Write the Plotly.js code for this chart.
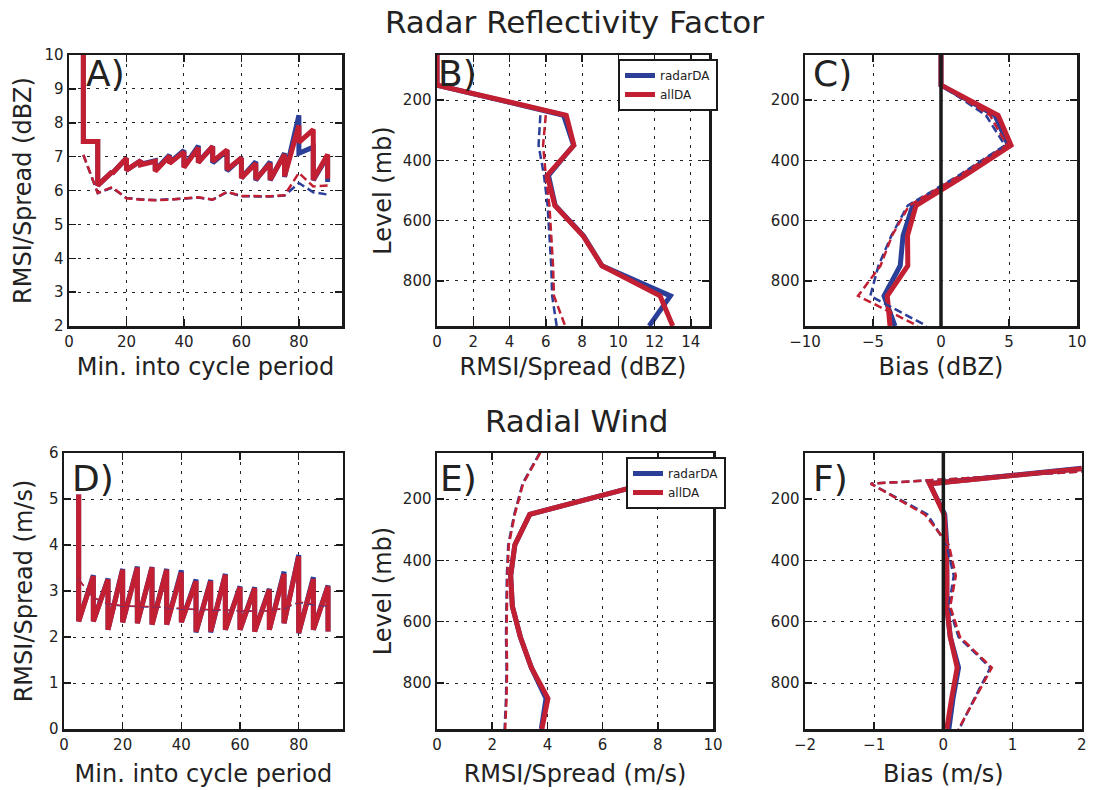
<!DOCTYPE html>
<html>
<head>
<meta charset="utf-8">
<script src="https://cdn.plot.ly/plotly-3.0.1.min.js"></script>
<style>html,body{margin:0;padding:0;background:#fff}#chart{width:1094px;height:790px}</style>
</head>
<body>
<div id="chart"></div>
<script>
// ---------------- data ----------------
const times = [5,10,15,20,25,30,35,40,45,50,55,60,65,70,75,80,85,90];

// A) reflectivity RMSI time series (forecast value before, analysis value after each cycle)
const dbzRadarFcst = [12,7.45,6.55,6.95,6.88,6.88,7.05,7.18,7.32,7.30,7.18,6.96,6.85,6.85,7.10,8.22,7.28,7.02];
const dbzRadarAnl  = [7.45,6.15,6.50,6.60,6.78,6.60,6.82,6.70,6.84,6.82,6.58,6.37,6.30,6.30,6.40,7.10,6.30,6.25];
const dbzAllFcst   = [12,7.45,6.55,6.95,6.88,6.86,7.02,7.14,7.26,7.30,7.20,6.96,6.80,6.80,7.06,7.92,7.80,7.06];
const dbzAllAnl    = [7.45,6.15,6.50,6.60,6.76,6.57,6.80,6.68,6.82,6.86,6.62,6.37,6.33,6.32,6.42,7.42,6.32,6.35];
const dbzRadarSpread = [7.05,5.92,6.08,5.78,5.74,5.72,5.74,5.76,5.79,5.73,5.95,5.83,5.82,5.82,5.85,6.22,5.95,5.88];
const dbzAllSpread   = [7.05,5.93,6.10,5.77,5.73,5.71,5.73,5.76,5.80,5.73,5.96,5.84,5.83,5.83,5.86,6.52,6.12,6.15];

// D) radial wind RMSI time series
const vrRadarFcst = [5.1,3.34,3.27,3.48,3.53,3.52,3.48,3.45,3.25,3.24,3.37,3.10,3.08,3.05,3.42,3.78,3.30,3.12];
const vrRadarAnl  = [2.34,2.34,2.16,2.32,2.30,2.27,2.27,2.32,2.10,2.10,2.16,2.16,2.12,2.16,2.30,2.08,2.16,2.12];
const vrAllFcst   = [5.1,3.32,3.25,3.46,3.51,3.51,3.46,3.40,3.21,3.21,3.35,3.08,3.06,3.03,3.37,3.75,3.26,3.10];
const vrAllAnl    = [2.34,2.34,2.16,2.32,2.30,2.27,2.27,2.32,2.12,2.12,2.16,2.16,2.12,2.16,2.30,2.09,2.16,2.12];
const vrRadarSpread = [3.25,2.85,2.72,2.67,2.66,2.65,2.64,2.61,2.60,2.59,2.58,2.57,2.56,2.57,2.62,2.75,2.70,2.67];
const vrAllSpread   = [3.25,2.86,2.73,2.68,2.67,2.66,2.65,2.62,2.60,2.60,2.59,2.57,2.56,2.57,2.63,2.76,2.72,2.68];

// vertical profiles
const levels = [50,100,150,250,350,450,550,650,750,850,950];

// B) reflectivity RMSI / spread
const dbzProfRadarRmsi   = [0,0,0,6.98,7.53,6.15,6.52,8.08,9.10,12.87,11.70];
const dbzProfAllRmsi     = [0,0,0,7.13,7.55,6.08,6.50,8.05,9.10,12.30,13.00];
const dbzProfRadarSpread = [null,null,null,5.70,5.60,5.90,6.10,6.20,6.30,6.35,6.60];
const dbzProfAllSpread   = [null,null,null,6.00,5.85,6.00,6.20,6.30,6.40,6.45,7.07];

// C) reflectivity bias
const dbzBiasRadar       = [0,0,0,3.97,4.95,1.60,-2.08,-2.79,-3.00,-4.19,-3.38];
const dbzBiasAll         = [0,0,0,4.20,5.15,1.76,-1.84,-2.46,-2.44,-3.95,-3.75];
const dbzBiasRadarSpread = [0,0,0,3.30,4.70,1.30,-2.45,-3.65,-4.60,-5.20,-1.05];
const dbzBiasAllSpread   = [0,0,0,3.60,4.85,1.40,-2.35,-3.60,-4.45,-6.10,-1.70];

// E) radial wind RMSI / spread
const vrProfRadarRmsi   = [null,11.40,7.60,3.36,2.82,2.67,2.73,3.02,3.42,3.95,3.78];
const vrProfAllRmsi     = [null,11.50,7.60,3.36,2.82,2.67,2.73,3.02,3.42,4.02,3.80];
const vrProfRadarSpread = [3.72,3.40,3.10,2.80,2.58,2.53,2.52,2.50,2.52,2.50,2.45];
const vrProfAllSpread   = [3.74,3.42,3.12,2.82,2.60,2.55,2.54,2.52,2.54,2.52,2.47];

// F) radial wind bias
const vrBiasRadar       = [null,2.00,-0.20,0.02,0.05,0.05,0.05,0.10,0.22,0.14,0.08];
const vrBiasAll         = [null,2.06,-0.20,0.01,0.04,0.05,0.05,0.10,0.20,0.12,0.05];
const vrBiasRadarSpread = [null,2.80,-1.05,-0.23,0.05,0.15,0.08,0.22,0.68,0.45,0.23];
const vrBiasAllSpread   = [null,2.80,-1.05,-0.27,0.08,0.18,0.10,0.24,0.70,0.46,0.22];

const zeroBias = [0,0];

// ---------------- style ----------------
const BLUE = '#2b3f98', RED = '#c21f32', INK = '#1a1a1a';
const FONT = 'DejaVu Sans, Liberation Sans, sans-serif';
const SOLID_W = 5, DASH_W = 2.5;
const DASH = '8px,4px';

function saw(t, f, a) {
  const xs = [], ys = [];
  for (let i = 0; i < t.length; i++) { xs.push(t[i], t[i]); ys.push(f[i], a[i]); }
  return {xs, ys};
}

const traces = [];
function tsPanel(xa, ya, rF, rA, aF, aA, rS, aS, dashW) {
  const r = saw(times, rF, rA), a = saw(times, aF, aA);
  traces.push({x: r.xs, y: r.ys, xaxis: xa, yaxis: ya, mode: 'lines', line: {color: BLUE, width: SOLID_W}, showlegend: false});
  traces.push({x: a.xs, y: a.ys, xaxis: xa, yaxis: ya, mode: 'lines', line: {color: RED, width: SOLID_W}, showlegend: false});
  traces.push({x: times, y: rS, xaxis: xa, yaxis: ya, mode: 'lines', line: {color: BLUE, width: dashW, dash: DASH}, showlegend: false});
  traces.push({x: times, y: aS, xaxis: xa, yaxis: ya, mode: 'lines', line: {color: RED, width: dashW, dash: DASH}, showlegend: false});
}
function profPanel(xa, ya, rV, aV, rS, aS, leg, zero) {
  traces.push({x: rV, y: levels, xaxis: xa, yaxis: ya, mode: 'lines', name: 'radarDA', line: {color: BLUE, width: SOLID_W}, showlegend: !!leg, legend: leg || 'legend'});
  traces.push({x: aV, y: levels, xaxis: xa, yaxis: ya, mode: 'lines', name: 'allDA', line: {color: RED, width: SOLID_W}, showlegend: !!leg, legend: leg || 'legend'});
  traces.push({x: rS, y: levels, xaxis: xa, yaxis: ya, mode: 'lines', line: {color: BLUE, width: DASH_W, dash: DASH}, showlegend: false});
  traces.push({x: aS, y: levels, xaxis: xa, yaxis: ya, mode: 'lines', line: {color: RED, width: DASH_W, dash: DASH}, showlegend: false});
  if (zero) traces.push({x: zeroBias, y: [levels[0], levels[levels.length-1]], xaxis: xa, yaxis: ya, mode: 'lines', line: {color: INK, width: 3.5}, showlegend: false});
}

tsPanel('x', 'y', dbzRadarFcst, dbzRadarAnl, dbzAllFcst, dbzAllAnl, dbzRadarSpread, dbzAllSpread, DASH_W);
profPanel('x2', 'y2', dbzProfRadarRmsi, dbzProfAllRmsi, dbzProfRadarSpread, dbzProfAllSpread, 'legend', false);
profPanel('x3', 'y3', dbzBiasRadar, dbzBiasAll, dbzBiasRadarSpread, dbzBiasAllSpread, null, true);
tsPanel('x4', 'y4', vrRadarFcst, vrRadarAnl, vrAllFcst, vrAllAnl, vrRadarSpread, vrAllSpread, 1.5);
profPanel('x5', 'y5', vrProfRadarRmsi, vrProfAllRmsi, vrProfRadarSpread, vrProfAllSpread, 'legend2', false);
profPanel('x6', 'y6', vrBiasRadar, vrBiasAll, vrBiasRadarSpread, vrBiasAllSpread, null, true);

function axis(domain, range, opts) {
  return Object.assign({
    domain: domain, range: range, autorange: false,
    showline: true, mirror: 'ticks', linecolor: INK, linewidth: 2.5,
    ticks: 'inside', ticklen: 7, tickwidth: 1.5, tickcolor: INK,
    showgrid: true, gridcolor: '#222', gridwidth: 1, griddash: '3px,6px',
    zeroline: false, tickfont: {family: FONT, size: 15, color: '#222'},
    fixedrange: true
  }, opts);
}
function ttl(text, standoff) { return {text: text, font: {family: FONT, size: 24, color: '#222'}, standoff: standoff}; }

const row1 = [1 - 326/790, 1 - 55/790];
const row2 = [1 - 729/790, 1 - 453/790];
const lvlTicks = {tickmode: 'array', tickvals: [200,400,600,800]};

const legendStyle = {xanchor: 'left', yanchor: 'top', bgcolor: '#fff', bordercolor: INK, borderwidth: 2,
                     font: {family: FONT, size: 12, color: '#222'}, tracegroupgap: 0, itemwidth: 30};

const layout = {
  width: 1094, height: 790,
  margin: {l: 0, r: 0, t: 0, b: 0},
  paper_bgcolor: '#fff', plot_bgcolor: '#fff',
  font: {family: FONT, color: '#222'},
  xaxis:  axis([69/1094, 342/1094], [0, 95], {anchor: 'y', dtick: 20, title: ttl('Min. into cycle period', 9)}),
  yaxis:  axis(row1, [2, 10], {anchor: 'x', dtick: 1, title: ttl('RMSI/Spread (dBZ)', 6)}),
  xaxis2: axis([437/1094, 709/1094], [0, 15], {anchor: 'y2', dtick: 2, title: ttl('RMSI/Spread (dBZ)', 9)}),
  yaxis2: axis(row1, [950, 50], Object.assign({anchor: 'x2', title: ttl('Level (mb)', 5)}, lvlTicks)),
  xaxis3: axis([805/1094, 1077/1094], [-10, 10], {anchor: 'y3', dtick: 5, title: ttl('Bias (dBZ)', 9)}),
  yaxis3: axis(row1, [950, 50], Object.assign({anchor: 'x3'}, lvlTicks)),
  xaxis4: axis([64/1094, 342.7/1094], [0, 95], {anchor: 'y4', dtick: 20, title: ttl('Min. into cycle period', 13)}),
  yaxis4: axis(row2, [0, 6], {anchor: 'x4', dtick: 1, title: ttl('RMSI/Spread (m/s)', 10)}),
  xaxis5: axis([437/1094, 713/1094], [0, 10], {anchor: 'y5', dtick: 2, title: ttl('RMSI/Spread (m/s)', 13)}),
  yaxis5: axis(row2, [950, 50], Object.assign({anchor: 'x5', title: ttl('Level (mb)', 5)}, lvlTicks)),
  xaxis6: axis([805/1094, 1081.7/1094], [-2, 2], {anchor: 'y6', dtick: 1, title: ttl('Bias (m/s)', 13)}),
  yaxis6: axis(row2, [950, 50], Object.assign({anchor: 'x6'}, lvlTicks)),
  legend:  Object.assign({x: 618/1094, y: 1 - 59/790}, legendStyle),
  legend2: Object.assign({x: 626/1094, y: 1 - 457/790}, legendStyle),
  annotations: [
    {text: 'Radar Reflectivity Factor', x: 574/1094, y: 1 - 22/790, xref: 'paper', yref: 'paper', showarrow: false, xanchor: 'center', yanchor: 'middle', font: {family: FONT, size: 31, color: '#222'}},
    {text: 'Radial Wind', x: 577/1094, y: 1 - 421/790, xref: 'paper', yref: 'paper', showarrow: false, xanchor: 'center', yanchor: 'middle', font: {family: FONT, size: 31, color: '#222'}},
    {text: 'A)', x: 84/1094, y: 1 - 73/790, xref: 'paper', yref: 'paper', showarrow: false, xanchor: 'left', yanchor: 'middle', font: {family: FONT, size: 36, color: '#222'}},
    {text: 'B)', x: 436/1094, y: 1 - 73/790, xref: 'paper', yref: 'paper', showarrow: false, xanchor: 'left', yanchor: 'middle', font: {family: FONT, size: 36, color: '#222'}},
    {text: 'C)', x: 811/1094, y: 1 - 73/790, xref: 'paper', yref: 'paper', showarrow: false, xanchor: 'left', yanchor: 'middle', font: {family: FONT, size: 36, color: '#222'}},
    {text: 'D)', x: 70/1094, y: 1 - 478/790, xref: 'paper', yref: 'paper', showarrow: false, xanchor: 'left', yanchor: 'middle', font: {family: FONT, size: 36, color: '#222'}},
    {text: 'E)', x: 438/1094, y: 1 - 478/790, xref: 'paper', yref: 'paper', showarrow: false, xanchor: 'left', yanchor: 'middle', font: {family: FONT, size: 36, color: '#222'}},
    {text: 'F)', x: 811/1094, y: 1 - 478/790, xref: 'paper', yref: 'paper', showarrow: false, xanchor: 'left', yanchor: 'middle', font: {family: FONT, size: 36, color: '#222'}}
  ]
};

Plotly.newPlot('chart', traces, layout, {staticPlot: true, displayModeBar: false});
</script>
</body>
</html>
